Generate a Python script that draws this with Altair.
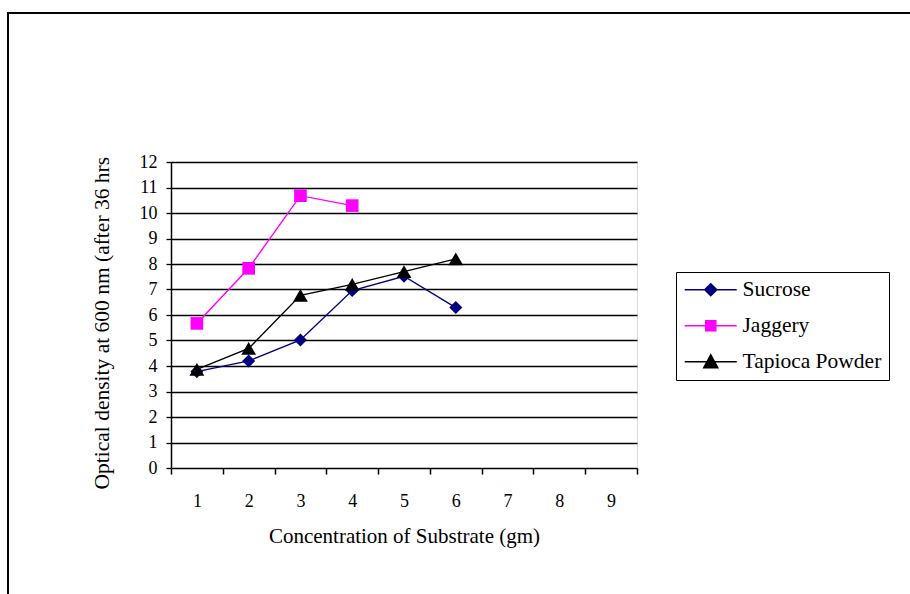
import altair as alt
import pandas as pd

series_names = ["Sucrose", "Jaggery", "Tapioca Powder"]
series_colors = ["#000080", "#FF00FF", "#000000"]
series_shapes = ["diamond", "square", "triangle-up"]
series_sizes = [170, 160, 220]
# legend symbols: line segment plus marker (units: 1 = 7 px at symbol size 196)
legend_shapes = [
    "M-1.29,0L6.14,0M2.43,-0.86L3.29,0L2.43,0.86L1.57,0Z",
    "M-1.29,0L6.14,0M1.71,-0.72L3.15,-0.72L3.15,0.72L1.71,0.72Z",
    "M-1.29,0L6.14,0M2.43,-1.0L3.43,0.86L1.43,0.86Z",
]

sucrose_x = [1, 2, 3, 4, 5, 6]
sucrose_y = [3.78, 4.2, 5.02, 6.96, 7.52, 6.29]
jaggery_x = [1, 2, 3, 4]
jaggery_y = [5.67, 7.83, 10.68, 10.29]
tapioca_x = [1, 2, 3, 4, 5, 6]
tapioca_y = [3.87, 4.69, 6.77, 7.2, 7.7, 8.2]

x_tick_values = [0.5, 1.5, 2.5, 3.5, 4.5, 5.5, 6.5, 7.5, 8.5, 9.5]
x_label_values = [1, 2, 3, 4, 5, 6, 7, 8, 9]
y_values = list(range(0, 13))

rows = []
for name, xs, ys in [("Sucrose", sucrose_x, sucrose_y),
                     ("Jaggery", jaggery_x, jaggery_y),
                     ("Tapioca Powder", tapioca_x, tapioca_y)]:
    for xv, yv in zip(xs, ys):
        rows.append({"Series": name, "Concentration": xv, "OD": yv})
df = pd.DataFrame(rows)

FONT = "Liberation Serif"

xscale = alt.Scale(domain=[0.5, 9.5], nice=False, zero=False)
yscale = alt.Scale(domain=[0, 12], nice=False)

y_axis = alt.Axis(
    values=y_values, grid=True, gridColor="black", gridWidth=1.4,
    tickSize=5, tickColor="black", tickWidth=1.3,
    domain=True, domainColor="black", domainWidth=1.5,
    labelFont=FONT, labelFontSize=18, labelColor="black", labelPadding=9,
    title="Optical density at 600 nm (after 36 hrs",
    titleFont=FONT, titleFontSize=21.5, titleFontWeight="normal", titleColor="black",
    titleAngle=270, titleX=-69, titleY=327, titleAlign="left", titleBaseline="middle",
)

x_tick_axis = alt.Axis(values=x_tick_values, labels=False, ticks=True, tickSize=6,
                       tickColor="black", tickWidth=1.5, grid=False, domain=False,
                       title=None, orient="bottom")

x_label_axis = alt.Axis(values=x_label_values, labels=True, ticks=False, tickSize=0,
                        grid=False, domain=False, labelFont=FONT, labelFontSize=18,
                        labelColor="black", labelPadding=24,
                        title="Concentration of Substrate (gm)", titleFont=FONT,
                        titleFontSize=21, titleFontWeight="normal", titleColor="black",
                        titlePadding=15, orient="bottom")

base = alt.Chart(df)

line_layers = []
point_layers = []
for i, (name, col, shp, sz) in enumerate(zip(series_names, series_colors,
                                              series_shapes, series_sizes)):
    sub = base.transform_filter(alt.datum.Series == name)
    line_layers.append(
        sub.mark_line(strokeWidth=1.4, color=col).encode(
            x=alt.X("Concentration:Q", scale=xscale,
                    axis=x_tick_axis if i == 0 else None),
            y=alt.Y("OD:Q", scale=yscale, axis=y_axis),
        )
    )
    point_layers.append(
        sub.mark_point(filled=True, opacity=1, size=sz, shape=shp, color=col).encode(
            x=alt.X("Concentration:Q", scale=xscale,
                    axis=x_label_axis if i == 0 else None),
            y=alt.Y("OD:Q", scale=yscale, axis=y_axis),
        )
    )

legend_props = dict(
    title=None, orient="none", legendX=505, legendY=110, direction="vertical",
    strokeColor="black", fillColor="white", padding=7,
    labelFont=FONT, labelFontSize=21.5, labelColor="black", labelOffset=38,
    symbolSize=196, symbolStrokeWidth=1.5, symbolOpacity=1, rowPadding=13,
)

# legend host: draws no marks (all rows filtered out); the entries come from
# the explicit scale domains
legend_layer = base.transform_filter("false").mark_point(filled=True, size=196).encode(
    x=alt.X("Concentration:Q", scale=xscale, axis=None),
    y=alt.Y("OD:Q", scale=yscale, axis=y_axis),
    fill=alt.Fill("Series:N", scale=alt.Scale(domain=series_names, range=series_colors),
                  legend=alt.Legend(**legend_props)),
    stroke=alt.Stroke("Series:N", scale=alt.Scale(domain=series_names, range=series_colors),
                      legend=alt.Legend(**legend_props)),
    shape=alt.Shape("Series:N", scale=alt.Scale(domain=series_names, range=legend_shapes),
                    legend=alt.Legend(**legend_props)),
)

frame = alt.Chart(pd.DataFrame({"a": [0]})).mark_rect(
    filled=False, stroke="black", strokeWidth=2, clip=False
).encode(
    x=alt.value(-163), x2=alt.value(780), y=alt.value(-149), y2=alt.value(500)
)

chart = alt.layer(frame, *line_layers, *point_layers, legend_layer).resolve_axis(
    x="independent"
).properties(
    width=466, height=306,
    autosize=alt.AutoSizeParams(type="none"),
    padding={"left": 171, "top": 162, "right": 273, "bottom": 126},
    background="white",
).configure_view(
    stroke="black", strokeWidth=1.5
).configure_legend(
    labelFont=FONT, labelFontSize=21.5, labelColor="black"
).configure(
    font=FONT
)

chart.save("out.html", embed_options={"renderer": "svg", "actions": False})
